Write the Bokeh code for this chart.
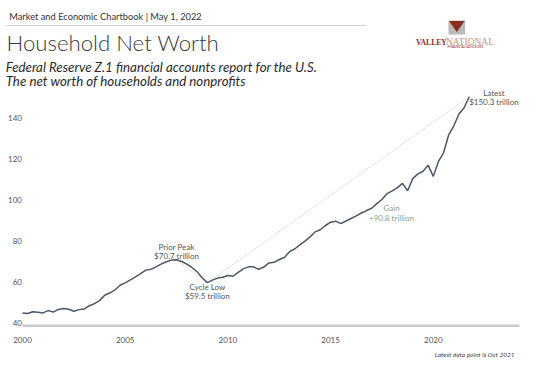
import pandas as pd
from bokeh.plotting import figure
from bokeh.models import FixedTicker, Title
from bokeh.core.properties import value
from bokeh.embed import file_html
from bokeh.resources import INLINE

# ---- data (US household & nonprofit net worth, $ trillion, quarterly) ----
quarters = pd.period_range("2000Q1", "2021Q4", freq="Q")
net_worth = [44.7, 44.4, 45.3, 45.0, 44.7, 45.8, 45.1, 46.4, 46.9, 46.5, 45.5, 46.3,
             46.6, 48.2, 49.2, 50.7, 53.3, 54.4, 55.9, 58.2, 59.4, 60.8, 62.3, 63.9,
             65.6, 66.0, 67.2, 68.5, 69.7, 70.5, 70.7, 69.8, 68.5, 66.9, 64.8, 61.9,
             59.5, 60.7, 61.7, 62.1, 63.0, 62.6, 64.5, 66.2, 67.2, 67.2, 66.0, 67.1,
             69.1, 69.4, 70.8, 71.8, 74.6, 75.9, 77.9, 79.8, 81.8, 84.3, 85.3, 87.4,
             89.0, 89.5, 88.3, 89.6, 90.8, 92.1, 93.5, 94.7, 95.8, 98.1, 100.1, 103.0,
             104.3, 105.9, 108.0, 104.4, 110.3, 112.6, 113.9, 116.8, 111.4, 118.7, 122.9, 131.7,
             136.1, 141.9, 144.9, 150.3]
x_ticks = [2000, 2005, 2010, 2015, 2020]
y_ticks = [40, 60, 80, 100, 120, 140]
axis_end = 2024.2

years = [q.year + (q.quarter - 1) / 4 for q in quarters]

# key points
peak_i = max(range(len(net_worth) // 2), key=lambda i: net_worth[i])
low_i = min(range(peak_i, len(net_worth)), key=lambda i: net_worth[i])
last_i = len(net_worth) - 1

# ---- page-pixel helpers (layout only) ----
PXY = 20.54   # px per year
PXV = 2.047   # px per $T
def xd(px):
    return 2000 + (px - 22) / PXY
def yd(py):
    return 38.4 - (py - 325.3) / PXV

SANS = value("Lato")
LIGHT = value("Lato Light, Lato")
SERIF = value("Liberation Serif")

p = figure(width=544, height=366, x_range=(xd(0), xd(544)), y_range=(yd(327), yd(0)),
           min_border_left=0, min_border_right=0, min_border_top=0, min_border_bottom=39,
           y_axis_location=None, toolbar_location=None, output_backend="svg",
           outline_line_color=None, background_fill_color="white", border_fill_color="white")
p.grid.visible = False

# x axis
ax = p.xaxis[0]
ax.ticker = FixedTicker(ticks=x_ticks)
ax.axis_line_color = None
ax.major_tick_line_color = None
ax.minor_tick_line_color = None
ax.major_label_text_font = "Lato"
ax.major_label_text_font_size = "8px"
ax.major_label_text_color = "#555555"
ax.major_label_standoff = 3

# footnote
p.add_layout(Title(text="Latest data point is Oct 2021", align="right", offset=30,
                   text_font="Lato", text_font_size="6.5px", text_font_style="italic",
                   text_color="#444444", standoff=6), "below")

# baseline
p.segment(x0=[x_ticks[0]], y0=[yd(325.3)], x1=[axis_end], y1=[yd(325.3)],
          line_color="#c6cbcc", line_width=2.5)

# y tick labels
p.text(x=[xd(21.5)] * len(y_ticks), y=y_ticks, text=[str(v) for v in y_ticks],
       text_align="right", text_baseline="middle", text_font=SANS,
       text_font_size="8px", text_color="#555555")

# dotted guide lines
p.line([years[peak_i], years[low_i]], [net_worth[peak_i], net_worth[low_i]],
       line_color="#efbcaa", line_width=1, line_dash="1 1")
p.line([years[low_i], years[last_i]], [net_worth[low_i], net_worth[last_i]],
       line_color="#bfccbf", line_width=1, line_dash="1 1")

# main line
p.line(years, net_worth, line_color="#4b5867", line_width=1.5)

# annotations
def note(x, y, txt, color="#555555", size="8px", dy=0, dx=0, align="center",
         style="normal", font=SANS):
    p.text(x=[x], y=[y], text=[txt], text_align=align, text_baseline="middle",
           x_offset=dx, y_offset=dy, text_font=font, text_font_size=size,
           text_color=color, text_font_style=style)

xp, yp = years[peak_i], net_worth[peak_i]
note(xp, yp, "Prior Peak", dy=-12.6)
note(xp, yp, f"${yp:.1f} trillion", dy=-3.3)
xl, yl = years[low_i], net_worth[low_i]
note(xl, yl, "Cycle Low", dy=4.3)
note(xl, yl, f"${yl:.1f} trillion", dy=13.6)
xe, ye = years[last_i], net_worth[last_i]
note(xe, ye, "Latest", dx=24.7, dy=-4)
note(xe, ye, f"${ye:.1f} trillion", dx=24.7, dy=5.6)
gain = ye - yl
note(xd(391), yd(207.7), "Gain", color="#8c9f8c")
note(xd(391), yd(217), f"+{gain:.1f} trillion", color="#8c9f8c")

# header
note(xd(8.7), yd(16.3), "Market and Economic Chartbook | May 1, 2022", color="#333333",
     size="9.3px", align="left")
p.segment(x0=[xd(6)], y0=[yd(25)], x1=[xd(365)], y1=[yd(25)], line_color="#cfd3d6", line_width=1.2)
note(xd(6), yd(42.2), "Household Net Worth", color="#3a3a3a", size="22.2px", align="left",
     font=LIGHT)
note(xd(5.2), yd(66), "Federal Reserve Z.1 financial accounts report for the U.S.",
     color="#2a2a2a", size="13.3px", align="left", style="italic")
note(xd(5.2), yd(80.5), "The net worth of households and nonprofits",
     color="#2a2a2a", size="13.3px", align="left", style="italic")

# logo
p.quad(left=[xd(448)], right=[xd(464.6)], top=[yd(20)], bottom=[yd(34)],
       fill_color="#b9b9b9", line_color=None)
p.patch([xd(448.5), xd(464.1), xd(456.3)], [yd(20.5), yd(20.5), yd(31.5)],
        fill_color="#8b2e1e", line_color=None)
p.text(x=[xd(415.6)], y=[yd(41.5)], text=["VALLEY"], text_align="left", text_baseline="alphabetic",
       text_font=SERIF, text_font_size="7.6px", text_font_style="bold", text_color="#8b2e1e")
p.text(x=[xd(445.5)], y=[yd(41.5)], text=["NATIONAL"], text_align="left", text_baseline="alphabetic",
       text_font=SERIF, text_font_size="9.5px", text_color="#c8917a")
p.text(x=[xd(465)], y=[yd(44.5)], text=["FINANCIAL ADVISORS"], text_align="center",
       text_baseline="top", text_font=SANS, text_font_size="3.5px", text_color="#8b2e1e")

open("out.html", "w").write(file_html(p, INLINE))
